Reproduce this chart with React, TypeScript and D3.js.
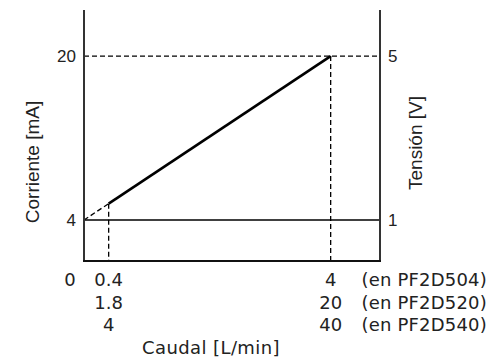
import * as d3 from "d3";

// output line (Caudal in PF2D504 units -> corriente mA)
const linePoints: [number, number][] = [
  [0, 4],
  [0.4, 5.6],
  [4, 20],
];
const currentTicks = [4, 20];
const voltageTicks = [1, 5];
const flowRows = [
  { values: ["0", "0.4", "4"], model: "(en PF2D504)" },
  { values: ["", "1.8", "20"], model: "(en PF2D520)" },
  { values: ["", "4", "40"], model: "(en PF2D540)" },
];
const flowTickPos = [0, 0.4, 4];

const W = 490;
const H = 358;

export default function App() {
  const x = d3.scaleLinear().domain([0, 4.8]).range([84, 380]);
  const y = d3.scaleLinear().domain([0, 24.5]).range([261, 10]);
  const v = d3.scaleLinear().domain([0, 6.125]).range([261, 10]); // 1V = 4mA, 5V = 20mA

  const line = d3
    .line<[number, number]>()
    .x((d) => x(d[0]))
    .y((d) => y(d[1]));

  const [p0, p1, p2] = linePoints;
  const dash = "5,3";
  const tickFont = "'Liberation Sans', Arial, sans-serif";
  const bottomFont = "'DejaVu Sans', Verdana, sans-serif";

  return (
    <svg
      width={W}
      height={H}
      style={{ position: "absolute", left: 0, top: 0, background: "#fff" }}
    >
      {/* reference lines */}
      <line x1={x(0)} x2={x(4.8)} y1={y(20)} y2={y(20)} stroke="#000" strokeWidth={1.3} strokeDasharray={dash} />
      <line x1={x(0)} x2={x(4.8)} y1={y(4)} y2={y(4)} stroke="#000" strokeWidth={1.5} />
      <line x1={x(p1[0])} x2={x(p1[0])} y1={y(p1[1])} y2={y(0)} stroke="#000" strokeWidth={1.3} strokeDasharray={dash} />
      <line x1={x(p2[0])} x2={x(p2[0])} y1={y(p2[1])} y2={y(0)} stroke="#000" strokeWidth={1.3} strokeDasharray={dash} />

      {/* output */}
      <path d={line([p0, p1]) ?? ""} fill="none" stroke="#000" strokeWidth={1.3} strokeDasharray={dash} />
      <path d={line([p1, p2]) ?? ""} fill="none" stroke="#000" strokeWidth={2.6} />

      {/* axes */}
      <line x1={x(0)} x2={x(0)} y1={y(24.5)} y2={y(0)} stroke="#333" strokeWidth={2} />
      <line x1={x(4.8)} x2={x(4.8)} y1={y(24.5)} y2={y(0)} stroke="#333" strokeWidth={2} />
      <line x1={x(0) - 1} x2={x(4.8) + 1} y1={y(0)} y2={y(0)} stroke="#111" strokeWidth={2} />

      {currentTicks.map((t) => (
        <text key={t} x={x(0) - 8} y={y(t)} dy="0.35em" textAnchor="end" fontSize={17} fontFamily={tickFont} fill="#222">
          {t}
        </text>
      ))}
      {voltageTicks.map((t) => (
        <text key={t} x={x(4.8) + 8} y={v(t)} dy="0.35em" textAnchor="start" fontSize={17} fontFamily={tickFont} fill="#222">
          {t}
        </text>
      ))}

      <text transform={`translate(39,162) rotate(-90)`} textAnchor="middle" fontSize={19} fontFamily={tickFont} fill="#222">
        Corriente [mA]
      </text>
      <text transform={`translate(422,143) rotate(-90)`} textAnchor="middle" fontSize={19} fontFamily={tickFont} fill="#222">
        Tensión [V]
      </text>

      {flowRows.map((row, i) => (
        <g key={row.model}>
          {row.values.map((val, j) =>
            val ? (
              <text
                key={j}
                x={j === 0 ? x(flowTickPos[0]) - 14 : x(flowTickPos[j])}
                y={280 + i * 22.5}
                dy="0.35em"
                textAnchor="middle"
                fontSize={18}
                fontFamily={bottomFont}
                fill="#222"
              >
                {val}
              </text>
            ) : null
          )}
          <text x={487} y={280 + i * 22.5} dy="0.35em" textAnchor="end" fontSize={18} letterSpacing={0.2} fontFamily={bottomFont} fill="#222">
            {row.model}
          </text>
        </g>
      ))}

      <text x={211} y={348} dy="0.35em" textAnchor="middle" fontSize={18} letterSpacing={0.4} fontFamily={bottomFont} fill="#222">
        Caudal [L/min]
      </text>
    </svg>
  );
}
